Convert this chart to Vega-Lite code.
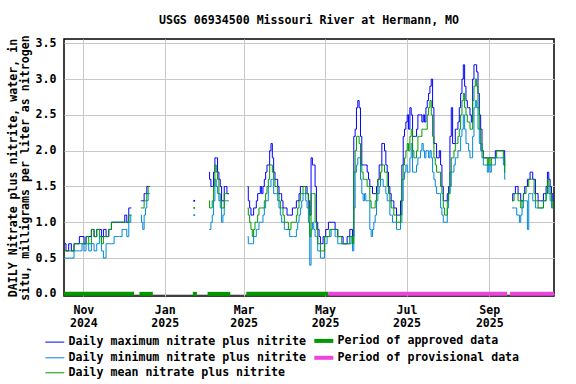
{
  "$schema": "https://vega.github.io/schema/vega-lite/v6.json",
  "width": 490,
  "height": 257,
  "autosize": "none",
  "padding": {"left": 64, "top": 39, "right": 22, "bottom": 88},
  "background": "white",
  "title": {"text": "USGS 06934500 Missouri River at Hermann, MO", "font": "DejaVu Sans Mono", "fontSize": 11.6, "fontWeight": "bold", "color": "black", "offset": 8, "anchor": "middle"},
  "datasets": {
    "lines": [
      {"date": "2024-10-18", "max": 0.7, "min": 0.5, "mean": 0.6},
      {"date": "2024-10-20", "max": 0.6, "min": 0.5, "mean": 0.6},
      {"date": "2024-10-22", "max": 0.7, "min": 0.5, "mean": 0.6},
      {"date": "2024-10-24", "max": 0.6, "min": 0.5, "mean": 0.6},
      {"date": "2024-10-26", "max": 0.7, "min": 0.6, "mean": 0.7},
      {"date": "2024-10-28", "max": 0.7, "min": 0.6, "mean": 0.7},
      {"date": "2024-10-30", "max": 0.8, "min": 0.6, "mean": 0.7},
      {"date": "2024-11-01", "max": 0.8, "min": 0.7, "mean": 0.7},
      {"date": "2024-11-02", "max": 0.7, "min": 0.6, "mean": 0.7},
      {"date": "2024-11-04", "max": 0.8, "min": 0.7, "mean": 0.8},
      {"date": "2024-11-06", "max": 0.8, "min": 0.6, "mean": 0.7},
      {"date": "2024-11-08", "max": 0.9, "min": 0.7, "mean": 0.9},
      {"date": "2024-11-10", "max": 0.8, "min": 0.6, "mean": 0.8},
      {"date": "2024-11-12", "max": 0.9, "min": 0.7, "mean": 0.9},
      {"date": "2024-11-14", "max": 0.9, "min": 0.8, "mean": 0.8},
      {"date": "2024-11-15", "max": 0.8, "min": 0.6, "mean": 0.7},
      {"date": "2024-11-17", "max": 0.9, "min": 0.5, "mean": 0.8},
      {"date": "2024-11-19", "max": 0.8, "min": 0.7, "mean": 0.8},
      {"date": "2024-11-21", "max": 0.9, "min": 0.7, "mean": 0.9},
      {"date": "2024-11-23", "max": 1.0, "min": 0.7, "mean": 1.0},
      {"date": "2024-11-25", "max": 1.0, "min": 0.8, "mean": 1.0},
      {"date": "2024-11-27", "max": 1.0, "min": 0.8, "mean": 1.0},
      {"date": "2024-11-29", "max": 1.0, "min": 0.8, "mean": 1.0},
      {"date": "2024-12-01", "max": 1.0, "min": 0.9, "mean": 1.0},
      {"date": "2024-12-03", "max": 1.1, "min": 0.9, "mean": 1.0},
      {"date": "2024-12-04", "max": 1.0, "min": 0.8, "mean": 1.0},
      {"date": "2024-12-06", "max": 1.2, "min": 1.0, "mean": 1.1},
      {"date": "2024-12-07", "max": 1.2, "min": 1.1, "mean": 1.1},
      {"date": "2024-12-10", "max": null, "min": null, "mean": null},
      {"date": "2024-12-14", "max": 1.3, "min": 1.1, "mean": 1.2},
      {"date": "2024-12-15", "max": 1.3, "min": 1.0, "mean": 1.2},
      {"date": "2024-12-16", "max": 1.3, "min": 0.9, "mean": 1.2},
      {"date": "2024-12-17", "max": 1.4, "min": 1.1, "mean": 1.3},
      {"date": "2024-12-18", "max": 1.4, "min": 1.2, "mean": 1.3},
      {"date": "2024-12-19", "max": 1.5, "min": 1.3, "mean": 1.4},
      {"date": "2024-12-20", "max": 1.5, "min": 1.4, "mean": 1.5},
      {"date": "2024-12-21", "max": 1.5, "min": 1.4, "mean": 1.5},
      {"date": "2025-01-05", "max": null, "min": null, "mean": null},
      {"date": "2025-02-03", "max": 1.7, "min": 0.9, "mean": 1.3},
      {"date": "2025-02-04", "max": 1.6, "min": 0.9, "mean": 1.2},
      {"date": "2025-02-05", "max": 1.5, "min": 1.0, "mean": 1.2},
      {"date": "2025-02-06", "max": 1.5, "min": 1.1, "mean": 1.3},
      {"date": "2025-02-07", "max": 1.7, "min": 1.3, "mean": 1.5},
      {"date": "2025-02-08", "max": 1.9, "min": 1.6, "mean": 1.8},
      {"date": "2025-02-09", "max": 1.9, "min": 1.5, "mean": 1.7},
      {"date": "2025-02-10", "max": 1.7, "min": 1.4, "mean": 1.6},
      {"date": "2025-02-11", "max": 1.6, "min": 1.3, "mean": 1.4},
      {"date": "2025-02-12", "max": 1.5, "min": 1.2, "mean": 1.3},
      {"date": "2025-02-13", "max": 1.3, "min": 1.0, "mean": 1.2},
      {"date": "2025-02-14", "max": 1.3, "min": 1.1, "mean": 1.2},
      {"date": "2025-02-15", "max": 1.5, "min": 1.3, "mean": 1.4},
      {"date": "2025-02-16", "max": 1.5, "min": 1.3, "mean": 1.4},
      {"date": "2025-02-17", "max": 1.4, "min": 1.3, "mean": 1.4},
      {"date": "2025-02-18", "max": 1.4, "min": 1.3, "mean": 1.4},
      {"date": "2025-02-25", "max": null, "min": null, "mean": null},
      {"date": "2025-03-04", "max": 1.5, "min": 0.8, "mean": 1.2},
      {"date": "2025-03-05", "max": 1.3, "min": 0.7, "mean": 1.1},
      {"date": "2025-03-06", "max": 1.2, "min": 0.7, "mean": 1.0},
      {"date": "2025-03-07", "max": 1.1, "min": 0.7, "mean": 0.9},
      {"date": "2025-03-08", "max": 1.1, "min": 0.7, "mean": 0.8},
      {"date": "2025-03-09", "max": 1.2, "min": 0.8, "mean": 0.9},
      {"date": "2025-03-10", "max": 1.2, "min": 0.8, "mean": 1.0},
      {"date": "2025-03-11", "max": 1.3, "min": 0.9, "mean": 1.0},
      {"date": "2025-03-12", "max": 1.4, "min": 0.9, "mean": 1.1},
      {"date": "2025-03-13", "max": 1.4, "min": 1.0, "mean": 1.2},
      {"date": "2025-03-14", "max": 1.5, "min": 1.0, "mean": 1.2},
      {"date": "2025-03-15", "max": 1.4, "min": 1.0, "mean": 1.2},
      {"date": "2025-03-16", "max": 1.5, "min": 1.1, "mean": 1.2},
      {"date": "2025-03-17", "max": 1.6, "min": 1.2, "mean": 1.3},
      {"date": "2025-03-18", "max": 1.7, "min": 1.3, "mean": 1.4},
      {"date": "2025-03-19", "max": 1.8, "min": 1.3, "mean": 1.5},
      {"date": "2025-03-20", "max": 1.8, "min": 1.5, "mean": 1.6},
      {"date": "2025-03-21", "max": 2.0, "min": 1.5, "mean": 1.8},
      {"date": "2025-03-22", "max": 2.1, "min": 1.6, "mean": 1.8},
      {"date": "2025-03-23", "max": 1.9, "min": 1.6, "mean": 1.7},
      {"date": "2025-03-24", "max": 1.7, "min": 1.4, "mean": 1.6},
      {"date": "2025-03-25", "max": 1.6, "min": 1.4, "mean": 1.5},
      {"date": "2025-03-26", "max": 1.6, "min": 1.4, "mean": 1.5},
      {"date": "2025-03-27", "max": 1.5, "min": 1.3, "mean": 1.4},
      {"date": "2025-03-28", "max": 1.4, "min": 1.2, "mean": 1.3},
      {"date": "2025-03-29", "max": 1.4, "min": 1.1, "mean": 1.2},
      {"date": "2025-03-30", "max": 1.3, "min": 1.0, "mean": 1.2},
      {"date": "2025-03-31", "max": 1.2, "min": 1.0, "mean": 1.1},
      {"date": "2025-04-01", "max": 1.2, "min": 0.9, "mean": 1.0},
      {"date": "2025-04-02", "max": 1.2, "min": 0.9, "mean": 1.0},
      {"date": "2025-04-03", "max": 1.1, "min": 0.9, "mean": 1.0},
      {"date": "2025-04-04", "max": 1.1, "min": 0.9, "mean": 0.9},
      {"date": "2025-04-05", "max": 1.1, "min": 0.8, "mean": 0.9},
      {"date": "2025-04-06", "max": 1.1, "min": 0.8, "mean": 1.0},
      {"date": "2025-04-07", "max": 1.2, "min": 0.8, "mean": 1.0},
      {"date": "2025-04-08", "max": 1.2, "min": 0.8, "mean": 1.0},
      {"date": "2025-04-09", "max": 1.2, "min": 0.8, "mean": 1.0},
      {"date": "2025-04-10", "max": 1.3, "min": 0.9, "mean": 1.1},
      {"date": "2025-04-11", "max": 1.3, "min": 1.0, "mean": 1.2},
      {"date": "2025-04-12", "max": 1.4, "min": 1.1, "mean": 1.3},
      {"date": "2025-04-13", "max": 1.5, "min": 1.2, "mean": 1.4},
      {"date": "2025-04-14", "max": 1.5, "min": 1.3, "mean": 1.4},
      {"date": "2025-04-15", "max": 1.5, "min": 1.4, "mean": 1.5},
      {"date": "2025-04-16", "max": 1.5, "min": 1.4, "mean": 1.5},
      {"date": "2025-04-17", "max": 1.5, "min": 1.3, "mean": 1.4},
      {"date": "2025-04-18", "max": 1.4, "min": 1.2, "mean": 1.4},
      {"date": "2025-04-19", "max": 1.3, "min": 1.0, "mean": 1.2},
      {"date": "2025-04-20", "max": 1.1, "min": 0.4, "mean": 0.8},
      {"date": "2025-04-21", "max": 1.9, "min": 0.9, "mean": 1.4},
      {"date": "2025-04-22", "max": 1.8, "min": 1.0, "mean": 1.4},
      {"date": "2025-04-23", "max": 1.8, "min": 0.9, "mean": 1.4},
      {"date": "2025-04-24", "max": 1.5, "min": 0.8, "mean": 1.0},
      {"date": "2025-04-25", "max": 1.0, "min": 0.8, "mean": 0.9},
      {"date": "2025-04-26", "max": 0.9, "min": 0.6, "mean": 0.7},
      {"date": "2025-04-27", "max": 0.8, "min": 0.6, "mean": 0.7},
      {"date": "2025-04-28", "max": 0.7, "min": 0.5, "mean": 0.6},
      {"date": "2025-04-29", "max": 0.7, "min": 0.5, "mean": 0.6},
      {"date": "2025-04-30", "max": 0.8, "min": 0.5, "mean": 0.6},
      {"date": "2025-05-01", "max": 0.8, "min": 0.7, "mean": 0.8},
      {"date": "2025-05-02", "max": 0.9, "min": 0.7, "mean": 0.8},
      {"date": "2025-05-03", "max": 0.9, "min": 0.8, "mean": 0.8},
      {"date": "2025-05-04", "max": 1.0, "min": 0.8, "mean": 0.8},
      {"date": "2025-05-05", "max": 1.0, "min": 0.8, "mean": 0.9},
      {"date": "2025-05-06", "max": 1.0, "min": 0.9, "mean": 0.9},
      {"date": "2025-05-07", "max": 1.0, "min": 0.9, "mean": 0.9},
      {"date": "2025-05-08", "max": 1.0, "min": 0.9, "mean": 0.9},
      {"date": "2025-05-09", "max": 0.9, "min": 0.8, "mean": 0.9},
      {"date": "2025-05-10", "max": 0.9, "min": 0.8, "mean": 0.9},
      {"date": "2025-05-11", "max": 0.8, "min": 0.7, "mean": 0.8},
      {"date": "2025-05-12", "max": 0.8, "min": 0.7, "mean": 0.8},
      {"date": "2025-05-13", "max": 0.8, "min": 0.7, "mean": 0.8},
      {"date": "2025-05-14", "max": 0.8, "min": 0.7, "mean": 0.7},
      {"date": "2025-05-15", "max": 0.7, "min": 0.7, "mean": 0.7},
      {"date": "2025-05-16", "max": 0.7, "min": 0.7, "mean": 0.7},
      {"date": "2025-05-17", "max": 0.7, "min": 0.7, "mean": 0.7},
      {"date": "2025-05-18", "max": 0.8, "min": 0.7, "mean": 0.7},
      {"date": "2025-05-19", "max": 0.8, "min": 0.7, "mean": 0.7},
      {"date": "2025-05-20", "max": 0.9, "min": 0.7, "mean": 0.8},
      {"date": "2025-05-21", "max": 0.9, "min": 0.8, "mean": 0.8},
      {"date": "2025-05-22", "max": 0.8, "min": 0.6, "mean": 0.7},
      {"date": "2025-05-23", "max": 2.2, "min": 1.2, "mean": 1.7},
      {"date": "2025-05-24", "max": 2.3, "min": 1.7, "mean": 2.0},
      {"date": "2025-05-25", "max": 2.6, "min": 1.8, "mean": 2.2},
      {"date": "2025-05-26", "max": 2.7, "min": 1.9, "mean": 2.2},
      {"date": "2025-05-27", "max": 2.6, "min": 1.9, "mean": 2.1},
      {"date": "2025-05-28", "max": 2.2, "min": 1.6, "mean": 1.8},
      {"date": "2025-05-29", "max": 1.8, "min": 1.4, "mean": 1.7},
      {"date": "2025-05-30", "max": 1.8, "min": 1.3, "mean": 1.6},
      {"date": "2025-05-31", "max": 1.8, "min": 1.4, "mean": 1.6},
      {"date": "2025-06-01", "max": 1.8, "min": 1.3, "mean": 1.6},
      {"date": "2025-06-02", "max": 1.7, "min": 1.3, "mean": 1.5},
      {"date": "2025-06-03", "max": 1.6, "min": 1.3, "mean": 1.5},
      {"date": "2025-06-04", "max": 1.5, "min": 0.9, "mean": 1.3},
      {"date": "2025-06-05", "max": 1.5, "min": 0.8, "mean": 1.2},
      {"date": "2025-06-06", "max": 1.4, "min": 0.9, "mean": 1.2},
      {"date": "2025-06-07", "max": 1.4, "min": 1.0, "mean": 1.2},
      {"date": "2025-06-08", "max": 1.4, "min": 1.1, "mean": 1.3},
      {"date": "2025-06-09", "max": 1.5, "min": 1.3, "mean": 1.4},
      {"date": "2025-06-10", "max": 1.6, "min": 1.4, "mean": 1.6},
      {"date": "2025-06-11", "max": 1.8, "min": 1.5, "mean": 1.6},
      {"date": "2025-06-12", "max": 1.8, "min": 1.6, "mean": 1.7},
      {"date": "2025-06-13", "max": 2.1, "min": 1.6, "mean": 1.8},
      {"date": "2025-06-14", "max": 2.1, "min": 1.5, "mean": 1.8},
      {"date": "2025-06-15", "max": 2.0, "min": 1.5, "mean": 1.7},
      {"date": "2025-06-16", "max": 1.8, "min": 1.4, "mean": 1.7},
      {"date": "2025-06-17", "max": 1.7, "min": 1.3, "mean": 1.5},
      {"date": "2025-06-18", "max": 1.5, "min": 1.3, "mean": 1.4},
      {"date": "2025-06-19", "max": 1.4, "min": 1.1, "mean": 1.3},
      {"date": "2025-06-20", "max": 1.3, "min": 1.1, "mean": 1.2},
      {"date": "2025-06-21", "max": 1.3, "min": 1.0, "mean": 1.2},
      {"date": "2025-06-22", "max": 1.2, "min": 1.0, "mean": 1.1},
      {"date": "2025-06-23", "max": 1.2, "min": 1.0, "mean": 1.1},
      {"date": "2025-06-24", "max": 1.1, "min": 0.9, "mean": 1.0},
      {"date": "2025-06-25", "max": 1.1, "min": 0.9, "mean": 1.0},
      {"date": "2025-06-26", "max": 1.1, "min": 0.9, "mean": 1.0},
      {"date": "2025-06-27", "max": 1.3, "min": 1.0, "mean": 1.1},
      {"date": "2025-06-28", "max": 1.8, "min": 1.3, "mean": 1.6},
      {"date": "2025-06-29", "max": 2.2, "min": 1.6, "mean": 1.8},
      {"date": "2025-06-30", "max": 2.3, "min": 1.7, "mean": 1.9},
      {"date": "2025-07-01", "max": 2.4, "min": 1.8, "mean": 2.0},
      {"date": "2025-07-02", "max": 2.5, "min": 1.7, "mean": 2.1},
      {"date": "2025-07-03", "max": 2.3, "min": 1.7, "mean": 2.0},
      {"date": "2025-07-04", "max": 2.6, "min": 1.9, "mean": 2.2},
      {"date": "2025-07-05", "max": 2.5, "min": 2.1, "mean": 2.3},
      {"date": "2025-07-06", "max": 2.2, "min": 1.7, "mean": 2.0},
      {"date": "2025-07-07", "max": 2.2, "min": 1.7, "mean": 1.9},
      {"date": "2025-07-08", "max": 2.2, "min": 1.7, "mean": 1.9},
      {"date": "2025-07-09", "max": 2.3, "min": 1.8, "mean": 2.0},
      {"date": "2025-07-10", "max": 2.5, "min": 1.9, "mean": 2.2},
      {"date": "2025-07-11", "max": 2.5, "min": 1.9, "mean": 2.2},
      {"date": "2025-07-12", "max": 2.5, "min": 2.0, "mean": 2.2},
      {"date": "2025-07-13", "max": 2.4, "min": 2.1, "mean": 2.3},
      {"date": "2025-07-14", "max": 2.5, "min": 2.0, "mean": 2.3},
      {"date": "2025-07-15", "max": 2.4, "min": 1.9, "mean": 2.3},
      {"date": "2025-07-16", "max": 2.6, "min": 2.0, "mean": 2.3},
      {"date": "2025-07-17", "max": 2.7, "min": 2.0, "mean": 2.5},
      {"date": "2025-07-18", "max": 2.8, "min": 1.9, "mean": 2.6},
      {"date": "2025-07-19", "max": 2.9, "min": 2.0, "mean": 2.7},
      {"date": "2025-07-20", "max": 3.0, "min": 1.9, "mean": 2.5},
      {"date": "2025-07-21", "max": 2.6, "min": 1.7, "mean": 2.2},
      {"date": "2025-07-22", "max": 2.1, "min": 1.6, "mean": 1.9},
      {"date": "2025-07-23", "max": 2.1, "min": 1.5, "mean": 1.8},
      {"date": "2025-07-24", "max": 1.9, "min": 1.4, "mean": 1.7},
      {"date": "2025-07-25", "max": 1.9, "min": 1.4, "mean": 1.7},
      {"date": "2025-07-26", "max": 2.0, "min": 1.4, "mean": 1.7},
      {"date": "2025-07-27", "max": 1.8, "min": 1.2, "mean": 1.5},
      {"date": "2025-07-28", "max": 1.5, "min": 1.1, "mean": 1.4},
      {"date": "2025-07-29", "max": 1.3, "min": 1.0, "mean": 1.2},
      {"date": "2025-07-30", "max": 1.3, "min": 1.0, "mean": 1.1},
      {"date": "2025-07-31", "max": 1.3, "min": 1.0, "mean": 1.1},
      {"date": "2025-08-01", "max": 1.4, "min": 1.2, "mean": 1.3},
      {"date": "2025-08-02", "max": 1.5, "min": 1.4, "mean": 1.4},
      {"date": "2025-08-03", "max": 2.2, "min": 1.5, "mean": 1.7},
      {"date": "2025-08-04", "max": 2.6, "min": 1.7, "mean": 1.9},
      {"date": "2025-08-05", "max": 2.1, "min": 1.7, "mean": 1.9},
      {"date": "2025-08-06", "max": 2.1, "min": 1.8, "mean": 2.0},
      {"date": "2025-08-07", "max": 2.3, "min": 1.9, "mean": 2.1},
      {"date": "2025-08-08", "max": 2.3, "min": 1.9, "mean": 2.1},
      {"date": "2025-08-09", "max": 2.4, "min": 2.0, "mean": 2.2},
      {"date": "2025-08-10", "max": 2.6, "min": 2.0, "mean": 2.3},
      {"date": "2025-08-11", "max": 2.8, "min": 2.2, "mean": 2.5},
      {"date": "2025-08-12", "max": 3.0, "min": 2.3, "mean": 2.7},
      {"date": "2025-08-13", "max": 3.2, "min": 2.5, "mean": 2.8},
      {"date": "2025-08-14", "max": 2.9, "min": 2.3, "mean": 2.6},
      {"date": "2025-08-15", "max": 2.7, "min": 2.1, "mean": 2.5},
      {"date": "2025-08-16", "max": 2.6, "min": 2.1, "mean": 2.4},
      {"date": "2025-08-17", "max": 2.6, "min": 2.0, "mean": 2.4},
      {"date": "2025-08-18", "max": 2.5, "min": 1.9, "mean": 2.3},
      {"date": "2025-08-19", "max": 2.4, "min": 1.9, "mean": 2.3},
      {"date": "2025-08-20", "max": 3.0, "min": 2.2, "mean": 2.7},
      {"date": "2025-08-21", "max": 3.2, "min": 2.6, "mean": 2.9},
      {"date": "2025-08-22", "max": 3.2, "min": 2.7, "mean": 3.0},
      {"date": "2025-08-23", "max": 3.1, "min": 2.6, "mean": 2.9},
      {"date": "2025-08-24", "max": 2.8, "min": 2.3, "mean": 2.6},
      {"date": "2025-08-25", "max": 2.5, "min": 2.1, "mean": 2.3},
      {"date": "2025-08-26", "max": 2.3, "min": 2.0, "mean": 2.1},
      {"date": "2025-08-27", "max": 2.0, "min": 1.9, "mean": 2.0},
      {"date": "2025-08-28", "max": 1.9, "min": 1.8, "mean": 1.9},
      {"date": "2025-08-29", "max": 1.9, "min": 1.8, "mean": 1.9},
      {"date": "2025-08-30", "max": 1.9, "min": 1.8, "mean": 1.9},
      {"date": "2025-08-31", "max": 1.9, "min": 1.7, "mean": 1.8},
      {"date": "2025-09-01", "max": 1.9, "min": 1.8, "mean": 1.9},
      {"date": "2025-09-02", "max": 1.9, "min": 1.7, "mean": 1.8},
      {"date": "2025-09-03", "max": 1.9, "min": 1.8, "mean": 1.9},
      {"date": "2025-09-04", "max": 1.9, "min": 1.8, "mean": 1.9},
      {"date": "2025-09-05", "max": 1.9, "min": 1.8, "mean": 1.9},
      {"date": "2025-09-06", "max": 2.0, "min": 1.9, "mean": 1.9},
      {"date": "2025-09-07", "max": 2.0, "min": 1.9, "mean": 2.0},
      {"date": "2025-09-08", "max": 2.0, "min": 1.9, "mean": 2.0},
      {"date": "2025-09-09", "max": 2.0, "min": 1.9, "mean": 2.0},
      {"date": "2025-09-10", "max": 2.0, "min": 1.9, "mean": 2.0},
      {"date": "2025-09-11", "max": 2.0, "min": 1.9, "mean": 2.0},
      {"date": "2025-09-12", "max": 2.0, "min": 1.8, "mean": 1.9},
      {"date": "2025-09-13", "max": 1.8, "min": 1.6, "mean": 1.7},
      {"date": "2025-09-15", "max": null, "min": null, "mean": null},
      {"date": "2025-09-18", "max": 1.3, "min": 1.2, "mean": 1.3},
      {"date": "2025-09-19", "max": 1.4, "min": 1.2, "mean": 1.3},
      {"date": "2025-09-20", "max": 1.4, "min": 1.2, "mean": 1.4},
      {"date": "2025-09-21", "max": 1.5, "min": 1.2, "mean": 1.4},
      {"date": "2025-09-22", "max": 1.5, "min": 1.1, "mean": 1.4},
      {"date": "2025-09-23", "max": 1.4, "min": 1.1, "mean": 1.3},
      {"date": "2025-09-24", "max": 1.4, "min": 1.0, "mean": 1.3},
      {"date": "2025-09-25", "max": 1.3, "min": 1.1, "mean": 1.2},
      {"date": "2025-09-26", "max": 1.3, "min": 1.2, "mean": 1.3},
      {"date": "2025-09-27", "max": 1.4, "min": 1.3, "mean": 1.4},
      {"date": "2025-09-28", "max": 1.5, "min": 1.3, "mean": 1.4},
      {"date": "2025-09-29", "max": 1.5, "min": 1.3, "mean": 1.5},
      {"date": "2025-09-30", "max": 1.6, "min": 0.9, "mean": 1.5},
      {"date": "2025-10-01", "max": 1.6, "min": 1.4, "mean": 1.6},
      {"date": "2025-10-02", "max": 1.7, "min": 1.4, "mean": 1.6},
      {"date": "2025-10-03", "max": 1.7, "min": 1.4, "mean": 1.6},
      {"date": "2025-10-04", "max": 1.6, "min": 1.3, "mean": 1.6},
      {"date": "2025-10-05", "max": 1.6, "min": 1.3, "mean": 1.4},
      {"date": "2025-10-06", "max": 1.4, "min": 1.2, "mean": 1.3},
      {"date": "2025-10-07", "max": 1.4, "min": 1.2, "mean": 1.3},
      {"date": "2025-10-08", "max": 1.3, "min": 1.2, "mean": 1.2},
      {"date": "2025-10-09", "max": 1.3, "min": 1.2, "mean": 1.2},
      {"date": "2025-10-10", "max": 1.3, "min": 1.2, "mean": 1.2},
      {"date": "2025-10-11", "max": 1.3, "min": 1.2, "mean": 1.2},
      {"date": "2025-10-12", "max": 1.4, "min": 1.3, "mean": 1.3},
      {"date": "2025-10-13", "max": 1.4, "min": 1.3, "mean": 1.3},
      {"date": "2025-10-14", "max": 1.5, "min": 1.4, "mean": 1.4},
      {"date": "2025-10-15", "max": 1.7, "min": 1.5, "mean": 1.6},
      {"date": "2025-10-16", "max": 1.6, "min": 1.4, "mean": 1.5},
      {"date": "2025-10-17", "max": 1.5, "min": 1.3, "mean": 1.4},
      {"date": "2025-10-18", "max": 1.4, "min": 1.2, "mean": 1.3},
      {"date": "2025-10-19", "max": 1.3, "min": 1.2, "mean": 1.2}
    ],
    "isolated": [
      {"date": "2025-01-23", "max": 1.3, "min": 1.1, "mean": 1.2}
    ],
    "periods": [
      {"start": "2024-10-17T12:00:00Z", "end": "2024-12-09T00:00:00Z", "series": "approved"},
      {"start": "2024-12-13T00:00:00Z", "end": "2024-12-23T00:00:00Z", "series": "approved"},
      {"start": "2025-01-22T00:00:00Z", "end": "2025-01-25T00:00:00Z", "series": "approved"},
      {"start": "2025-02-02T00:00:00Z", "end": "2025-02-19T00:00:00Z", "series": "approved"},
      {"start": "2025-03-03T00:00:00Z", "end": "2025-05-03T12:00:00Z", "series": "approved"},
      {"start": "2025-05-03T12:00:00Z", "end": "2025-09-14T08:00:00Z", "series": "provisional"},
      {"start": "2025-09-16T12:00:00Z", "end": "2025-10-19T10:00:00Z", "series": "provisional"}
    ]
  },
  "layer": [
    {
      "data": {"name": "lines"},
      "transform": [{"fold": ["max", "min", "mean"], "as": ["series", "value"]}],
      "mark": {"type": "line", "strokeWidth": 1, "interpolate": "step"},
      "encoding": {
        "x": {
          "field": "date", "type": "temporal",
          "scale": {"type": "utc", "domain": ["2024-10-17T12:00:00Z", "2025-10-19T10:00:00Z"], "nice": false},
          "axis": {
            "title": null,
            "tickCount": {"interval": "month", "step": 2},
            "labelExpr": "[utcFormat(datum.value, '%b'), utcFormat(datum.value, '%Y')]",
            "labelFont": "DejaVu Sans Mono", "labelFontSize": 11.6, "labelFontWeight": "bold", "labelColor": "black",
            "labelLineHeight": 13, "labelPadding": 8, "labelFlush": false, "labelOverlap": false,
            "ticks": false, "domain": false,
            "grid": true, "gridColor": "#c8c8c8", "gridWidth": 1
          }
        },
        "y": {
          "field": "value", "type": "quantitative",
          "scale": {"domain": [-0.03, 3.56], "nice": false, "zero": false},
          "axis": {
            "title": ["DAILY Nitrate plus nitrite, water, in", "situ, milligrams per liter as nitrogen"],
            "titleFont": "DejaVu Sans Mono", "titleFontSize": 11.6, "titleFontWeight": "bold", "titleColor": "black",
            "titleLineHeight": 12, "titlePadding": 5,
            "values": [0, 0.5, 1, 1.5, 2, 2.5, 3, 3.5],
            "format": ".1f",
            "labelOverlap": false,
            "labelFont": "DejaVu Sans Mono", "labelFontSize": 11.6, "labelFontWeight": "bold", "labelColor": "black",
            "labelPadding": 8, "ticks": false, "domain": false,
            "grid": true, "gridColor": "#c8c8c8", "gridWidth": 1
          }
        },
        "color": {
          "field": "series", "type": "nominal",
          "scale": {
            "domain": ["max", "min", "mean", "approved", "provisional"],
            "range": ["#0000ff", "#0088dd", "#009900", "#009900", "#ee44dd"]
          },
          "legend": {
            "orient": "none", "legendX": -15, "legendY": 296,
            "columns": 2, "title": null,
            "symbolType": "stroke", "symbolSize": 361, "symbolStrokeWidth": 1,
            "labelFont": "DejaVu Sans Mono", "labelFontSize": 11.6, "labelFontWeight": "bold", "labelColor": "black",
            "labelLimit": 400,
            "labelOffset": 8, "columnPadding": 0, "rowPadding": 0,
            "labelExpr": "datum.label == 'max' ? 'Daily maximum nitrate plus nitrite' : datum.label == 'min' ? 'Daily minimum nitrate plus nitrite' : datum.label == 'mean' ? 'Daily mean nitrate plus nitrite' : datum.label == 'approved' ? 'Period of approved data' : 'Period of provisional data'",
            "encode": {"symbols": {"update": {"strokeWidth": {"signal": "datum.value == 'approved' || datum.value == 'provisional' ? 4 : 1"}}}}
          }
        }
      }
    },
    {
      "data": {"name": "isolated"},
      "transform": [{"fold": ["max", "min", "mean"], "as": ["series", "value"]}],
      "mark": {"type": "square", "size": 3, "filled": true, "opacity": 1},
      "encoding": {
        "x": {"field": "date", "type": "temporal"},
        "y": {
          "field": "value", "type": "quantitative",
          "axis": {
            "title": ["DAILY Nitrate plus nitrite, water, in", "situ, milligrams per liter as nitrogen"],
            "titleFont": "DejaVu Sans Mono", "titleFontSize": 11.6, "titleFontWeight": "bold", "titleColor": "black",
            "titleLineHeight": 12, "titlePadding": 5,
            "values": [0, 0.5, 1, 1.5, 2, 2.5, 3, 3.5],
            "format": ".1f",
            "labelOverlap": false,
            "labelFont": "DejaVu Sans Mono", "labelFontSize": 11.6, "labelFontWeight": "bold", "labelColor": "black",
            "labelPadding": 8, "ticks": false, "domain": false,
            "grid": true, "gridColor": "#c8c8c8", "gridWidth": 1
          }
        },
        "fill": {
          "field": "series", "type": "nominal",
          "scale": {"domain": ["max", "min", "mean"], "range": ["#0000ff", "#0088dd", "#009900"]},
          "legend": null
        }
      }
    },
    {
      "data": {"name": "periods"},
      "mark": {"type": "rule", "strokeWidth": 4},
      "encoding": {
        "x": {"field": "start", "type": "temporal"},
        "x2": {"field": "end"},
        "y": {
          "datum": 0, "type": "quantitative",
          "axis": {
            "title": ["DAILY Nitrate plus nitrite, water, in", "situ, milligrams per liter as nitrogen"],
            "titleFont": "DejaVu Sans Mono", "titleFontSize": 11.6, "titleFontWeight": "bold", "titleColor": "black",
            "titleLineHeight": 12, "titlePadding": 5,
            "values": [0, 0.5, 1, 1.5, 2, 2.5, 3, 3.5],
            "format": ".1f",
            "labelOverlap": false,
            "labelFont": "DejaVu Sans Mono", "labelFontSize": 11.6, "labelFontWeight": "bold", "labelColor": "black",
            "labelPadding": 8, "ticks": false, "domain": false,
            "grid": true, "gridColor": "#c8c8c8", "gridWidth": 1
          }
        },
        "color": {"field": "series", "type": "nominal"}
      }
    }
  ],
  "config": {
    "view": {"stroke": "black", "strokeWidth": 1.5}
  }
}
